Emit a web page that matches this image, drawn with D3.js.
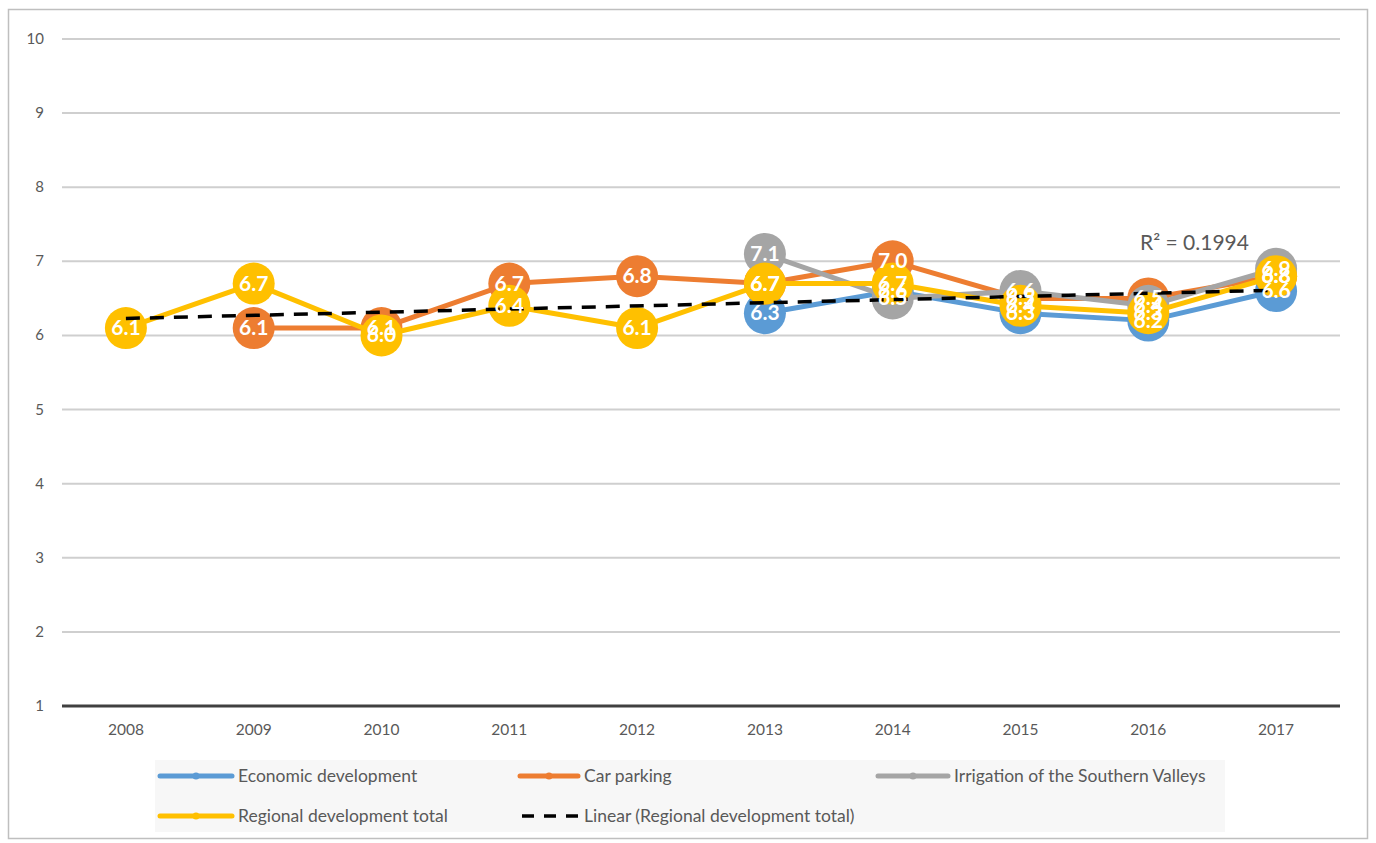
<!DOCTYPE html>
<html><head><meta charset="utf-8">
<script src="https://cdn.jsdelivr.net/npm/d3@7"></script>
<style>body{margin:0;background:#fff;font-family:Lato,"Open Sans",sans-serif}</style>
</head><body><svg id="c" width="1376" height="843"></svg>
<script>
const years = ["2008","2009","2010","2011","2012","2013","2014","2015","2016","2017"];
const economic = [null,null,null,null,null,6.3,6.6,6.3,6.2,6.6];
const carParking = [null,6.1,6.1,6.7,6.8,6.7,7.0,6.5,6.5,6.8];
const irrigation = [null,null,null,null,null,7.1,6.5,6.6,6.4,6.9];
const regional = [6.1,6.7,6.0,6.4,6.1,6.7,6.7,6.4,6.3,6.8];
const yTicks = [1,2,3,4,5,6,7,8,9,10];
const seriesNames = ["Economic development","Car parking","Irrigation of the Southern Valleys","Regional development total"];
const trendName = "Linear (Regional development total)";
const r2Label = "R² = 0.1994";

const colors = ["#5b9bd5","#ed7d31","#a5a5a5","#ffc000"];
const series = [economic, carParking, irrigation, regional];

const svg = d3.select("#c");
svg.append("rect").attr("x",8.5).attr("y",9.5).attr("width",1359).attr("height",829)
  .attr("fill","#fff").attr("stroke","#bfbfbf").attr("stroke-width",1.5);

const x = d3.scaleBand().domain(years).range([62,1340]);
const y = d3.scaleLinear().domain([1,10]).range([706,39]);
const cx = d => x(d) + x.bandwidth()/2;

// gridlines
const g = svg.append("g");
g.selectAll("line.grid").data(yTicks.filter(t=>t>1)).join("line")
  .attr("x1",62).attr("x2",1340).attr("y1",d=>y(d)).attr("y2",d=>y(d))
  .attr("stroke","#cfcfcf").attr("stroke-width",2);
g.selectAll("text.yl").data(yTicks).join("text")
  .attr("x",44).attr("y",d=>y(d)+5).attr("text-anchor","end")
  .attr("font-size",15).attr("fill","#595959").text(d=>d);
g.append("line").attr("x1",62).attr("x2",1340).attr("y1",y(1)).attr("y2",y(1))
  .attr("stroke","#404040").attr("stroke-width",3);
g.selectAll("text.xl").data(years).join("text")
  .attr("x",d=>cx(d)).attr("y",735).attr("text-anchor","middle")
  .attr("font-size",15.5).attr("fill","#595959").text(d=>d);

// series
const line = d3.line().defined(d=>d.v!=null).x(d=>cx(d.yr)).y(d=>y(d.v));
series.forEach((s,i)=>{
  const pts = s.map((v,j)=>({yr:years[j],v}));
  svg.append("path").attr("d",line(pts)).attr("fill","none")
    .attr("stroke",colors[i]).attr("stroke-width",5).attr("stroke-linejoin","round");
  svg.selectAll(null).data(pts.filter(d=>d.v!=null)).join("circle")
    .attr("cx",d=>cx(d.yr)).attr("cy",d=>y(d.v)).attr("r",21).attr("fill",colors[i]);
});

// trendline (least squares over regional total)
const xs = regional.map((v,i)=>i+1);
const mx = d3.mean(xs), my = d3.mean(regional);
const slope = d3.sum(xs.map((xv,i)=>(xv-mx)*(regional[i]-my)))/d3.sum(xs.map(xv=>(xv-mx)**2));
const icpt = my - slope*mx;
svg.append("line").attr("x1",cx(years[0])).attr("x2",cx(years[years.length-1]))
  .attr("y1",y(icpt+slope*1)).attr("y2",y(icpt+slope*years.length))
  .attr("stroke","#000").attr("stroke-width",3.5).attr("stroke-dasharray","14 10");

// labels
series.forEach((s,i)=>{
  const pts = s.map((v,j)=>({yr:years[j],v})).filter(d=>d.v!=null);
  svg.selectAll(null).data(pts).join("text")
    .attr("x",d=>cx(d.yr)).attr("y",d=>y(d.v)+7).attr("text-anchor","middle")
    .attr("font-size",21).attr("font-weight","bold").attr("fill","#fff")
    .text(d=>d.v.toFixed(1));
});

svg.append("text").attr("x",1140).attr("y",250).attr("font-size",21).attr("fill","#595959").text(r2Label);

// legend
const lg = svg.append("g");
lg.append("rect").attr("x",155).attr("y",760).attr("width",1070).attr("height",72).attr("fill","#f7f7f7");
const items = [
  {name:seriesNames[0],c:colors[0],x:160,w:72,y:776},
  {name:seriesNames[1],c:colors[1],x:520,w:58,y:776},
  {name:seriesNames[2],c:colors[2],x:878,w:70,y:776},
  {name:seriesNames[3],c:colors[3],x:160,w:72,y:816},
  {name:trendName,c:"#000",x:520,w:58,y:816,dash:true}
];
items.forEach(it=>{
  if(it.dash){
    lg.append("line").attr("x1",it.x+2).attr("x2",it.x+it.w).attr("y1",it.y).attr("y2",it.y)
      .attr("stroke","#000").attr("stroke-width",3.5).attr("stroke-dasharray","12 10");
  } else {
    lg.append("line").attr("x1",it.x).attr("x2",it.x+it.w).attr("y1",it.y).attr("y2",it.y)
      .attr("stroke",it.c).attr("stroke-width",5).attr("stroke-linecap","round");
    lg.append("circle").attr("cx",it.x+it.w/2).attr("cy",it.y).attr("r",3.5).attr("fill",it.c);
  }
  lg.append("text").attr("x",it.x+it.w+6).attr("y",it.y+5.5).attr("font-size",17.5).attr("fill","#595959").text(it.name);
});
</script></body></html>
